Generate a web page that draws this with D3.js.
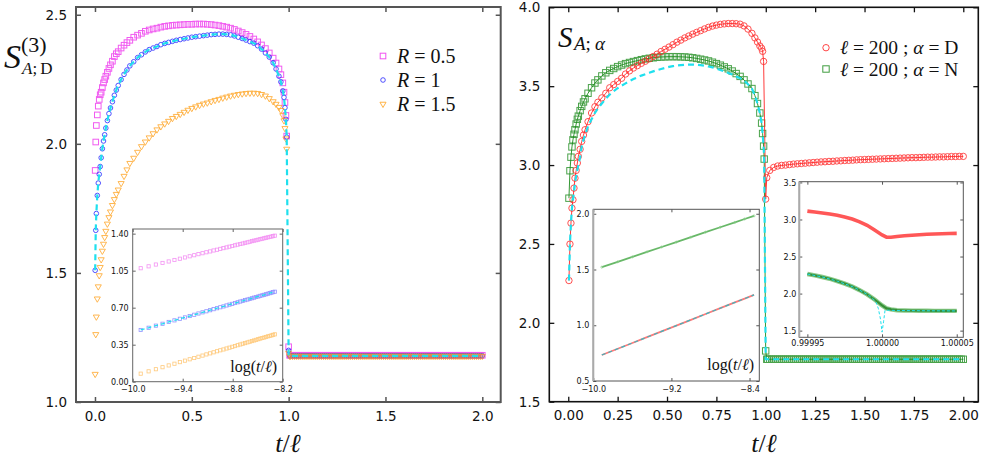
<!DOCTYPE html>
<html><head><meta charset="utf-8">
<script src="https://cdn.jsdelivr.net/npm/d3@7"></script>
<style>body{margin:0;background:#fff}svg{display:block}</style>
</head><body>
<svg id="c" width="986" height="461"></svg>
<script>
// ===================== DATA =====================
// ---- Left panel: S^(3)_{A;D} vs t/l ----
const tLeft = [0.001,0.004,0.007,0.012,0.017,0.022,0.027,0.032,0.038,0.044,
  0.05,0.056,0.064,0.072,0.08,0.09,0.10,0.11,0.12,0.135,
  0.15,0.165,0.18,0.20,0.22,0.24,0.26,0.28,0.30,0.32,
  0.34,0.36,0.38,0.40,0.42,0.44,0.46,0.48,0.50,0.52,
  0.54,0.56,0.58,0.60,0.62,0.64,0.66,0.68,0.70,0.72,
  0.74,0.76,0.78,0.80,0.82,0.84,0.86,0.88,0.90,0.92,
  0.935,0.95,0.96,0.97,0.976,0.981,0.986,0.99,1.0];
const sR05 = [1.897,2.007,2.071,2.112,2.146,2.172,2.19,2.20,2.218,2.236,
  2.249,2.262,2.277,2.292,2.306,2.32,2.338,2.349,2.357,2.371,
  2.382,2.392,2.401,2.413,2.421,2.428,2.436,2.441,2.445,2.448,
  2.452,2.455,2.457,2.459,2.460,2.461,2.462,2.463,2.463,2.464,
  2.464,2.464,2.463,2.462,2.460,2.458,2.455,2.452,2.448,2.443,
  2.437,2.431,2.424,2.416,2.406,2.395,2.383,2.369,2.352,2.332,
  2.313,2.29,2.268,2.236,2.20,2.16,2.11,2.03,1.214];
const sR1 = [1.51,1.665,1.73,1.80,1.848,1.882,1.912,1.946,1.981,2.011,
  2.035,2.061,2.09,2.117,2.139,2.163,2.188,2.208,2.226,2.249,
  2.269,2.286,2.302,2.318,2.334,2.345,2.356,2.365,2.371,2.377,
  2.384,2.389,2.393,2.397,2.401,2.404,2.407,2.41,2.413,2.415,
  2.417,2.419,2.421,2.423,2.424,2.425,2.425,2.424,2.422,2.418,
  2.413,2.408,2.402,2.396,2.39,2.38,2.367,2.352,2.336,2.314,
  2.29,2.262,2.24,2.205,2.18,2.14,2.095,2.026,1.2];
const sR15 = [1.108,1.262,1.33,1.40,1.447,1.49,1.522,1.552,1.585,1.612,
  1.638,1.662,1.69,1.715,1.737,1.762,1.785,1.805,1.822,1.847,
  1.875,1.90,1.925,1.945,1.968,1.99,2.008,2.024,2.04,2.055,
  2.067,2.078,2.088,2.099,2.107,2.115,2.123,2.131,2.138,2.144,
  2.15,2.155,2.159,2.164,2.169,2.173,2.178,2.182,2.186,2.189,
  2.192,2.194,2.196,2.197,2.197,2.196,2.192,2.186,2.176,2.164,
  2.154,2.142,2.13,2.11,2.09,2.06,2.02,1.98,1.19];
// plateau after t/l = 1 (dense grid)
const tFlat = [1.005,1.01,1.02,1.03,1.04,1.05,1.06,1.07,1.08,1.09,1.10,1.11,1.12,1.13,1.14,1.15,1.16,1.17,1.18,1.19,
  1.20,1.21,1.22,1.23,1.24,1.25,1.26,1.27,1.28,1.29,1.30,1.31,1.32,1.33,1.34,1.35,1.36,1.37,1.38,1.39,
  1.40,1.41,1.42,1.43,1.44,1.45,1.46,1.47,1.48,1.49,1.50,1.51,1.52,1.53,1.54,1.55,1.56,1.57,1.58,1.59,
  1.60,1.61,1.62,1.63,1.64,1.65,1.66,1.67,1.68,1.69,1.70,1.71,1.72,1.73,1.74,1.75,1.76,1.77,1.78,1.79,
  1.80,1.81,1.82,1.83,1.84,1.85,1.86,1.87,1.88,1.89,1.90,1.91,1.92,1.93,1.94,1.95,1.96,1.97,1.98,1.99,2.00];
const sR05Flat = [1.181,1.181,1.181,1.181,1.181,1.181,1.181,1.181,1.181,1.181,1.181,1.181,1.181,1.181,1.181,1.181,1.181,1.181,1.181,1.181,
  1.181,1.181,1.181,1.181,1.181,1.181,1.181,1.181,1.181,1.181,1.181,1.181,1.181,1.181,1.181,1.181,1.181,1.181,1.181,1.181,
  1.181,1.181,1.181,1.181,1.181,1.181,1.181,1.181,1.181,1.181,1.181,1.181,1.181,1.181,1.181,1.181,1.181,1.181,1.181,1.181,
  1.181,1.181,1.181,1.181,1.181,1.181,1.181,1.181,1.181,1.181,1.181,1.181,1.181,1.181,1.181,1.181,1.181,1.181,1.181,1.181,
  1.181,1.181,1.181,1.181,1.181,1.181,1.181,1.181,1.181,1.181,1.181,1.181,1.181,1.181,1.181,1.181,1.181,1.181,1.181,1.181,1.181];
const sR1Flat = [1.179,1.179,1.179,1.179,1.179,1.179,1.179,1.179,1.179,1.179,1.179,1.179,1.179,1.179,1.179,1.179,1.179,1.179,1.179,1.179,
  1.179,1.179,1.179,1.179,1.179,1.179,1.179,1.179,1.179,1.179,1.179,1.179,1.179,1.179,1.179,1.179,1.179,1.179,1.179,1.179,
  1.179,1.179,1.179,1.179,1.179,1.179,1.179,1.179,1.179,1.179,1.179,1.179,1.179,1.179,1.179,1.179,1.179,1.179,1.179,1.179,
  1.179,1.179,1.179,1.179,1.179,1.179,1.179,1.179,1.179,1.179,1.179,1.179,1.179,1.179,1.179,1.179,1.179,1.179,1.179,1.179,
  1.179,1.179,1.179,1.179,1.179,1.179,1.179,1.179,1.179,1.179,1.179,1.179,1.179,1.179,1.179,1.179,1.179,1.179,1.179,1.179,1.179];
const sR15Flat = [1.178,1.178,1.178,1.178,1.178,1.178,1.178,1.178,1.178,1.178,1.178,1.178,1.178,1.178,1.178,1.178,1.178,1.178,1.178,1.178,
  1.178,1.178,1.178,1.178,1.178,1.178,1.178,1.178,1.178,1.178,1.178,1.178,1.178,1.178,1.178,1.178,1.178,1.178,1.178,1.178,
  1.178,1.178,1.178,1.178,1.178,1.178,1.178,1.178,1.178,1.178,1.178,1.178,1.178,1.178,1.178,1.178,1.178,1.178,1.178,1.178,
  1.178,1.178,1.178,1.178,1.178,1.178,1.178,1.178,1.178,1.178,1.178,1.178,1.178,1.178,1.178,1.178,1.178,1.178,1.178,1.178,
  1.178,1.178,1.178,1.178,1.178,1.178,1.178,1.178,1.178,1.178,1.178,1.178,1.178,1.178,1.178,1.178,1.178,1.178,1.178,1.178,1.178];
// theory (cyan dashed) coincides with R = 1 up to the jump, then the plateau
const theoryLeftT = tLeft.slice(0,-1).concat([1.0, 2.0]);
const theoryLeft = sR1.slice(0,-1).concat([1.179, 1.179]);

// ---- Left inset: vs log(t/l) ----
const in1LogT = [-9.904,-9.809,-9.722,-9.642,-9.568,-9.499,-9.434,-9.373,-9.316,-9.262,-9.211,-9.162,-9.116,-9.071,
  -9.029,-8.988,-8.949,-8.911,-8.874,-8.839,-8.805,-8.773,-8.741,-8.710,-8.680,-8.651,-8.623,-8.596,-8.569,-8.543,
  -8.518,-8.493,-8.469,-8.445,-8.422,-8.400,-8.378,-8.356,-8.335,-8.315,-8.295];
const in1R05 = [1.073,1.091,1.108,1.123,1.137,1.151,1.163,1.175,1.186,1.196,1.206,1.215,1.224,1.232,1.241,1.248,
  1.256,1.263,1.270,1.277,1.283,1.290,1.296,1.302,1.307,1.313,1.318,1.323,1.329,1.334,1.338,1.343,1.348,1.352,
  1.357,1.361,1.365,1.369,1.373,1.377,1.381];
const in1R1 = [0.489,0.510,0.530,0.548,0.565,0.580,0.595,0.608,0.621,0.633,0.645,0.656,0.666,0.676,0.686,0.695,
  0.704,0.712,0.721,0.729,0.736,0.744,0.751,0.758,0.764,0.771,0.777,0.783,0.789,0.795,0.801,0.806,0.812,0.817,
  0.822,0.827,0.832,0.837,0.842,0.847,0.851];
const in1R15 = [0.076,0.098,0.118,0.137,0.154,0.170,0.185,0.199,0.212,0.224,0.236,0.247,0.258,0.268,0.278,0.288,
  0.297,0.305,0.314,0.322,0.330,0.337,0.345,0.352,0.359,0.365,0.372,0.378,0.384,0.390,0.396,0.402,0.408,0.413,
  0.418,0.423,0.429,0.433,0.438,0.443,0.448];

// ---- Right panel: S_{A;alpha} vs t/l, l = 200 ----
const tRight = [0.0035,0.0086,0.0137,0.0187,0.0238,0.029,0.034,0.04,0.046,0.051,
  0.06,0.068,0.077,0.085,0.1,0.118,0.135,0.15,0.17,0.19,
  0.21,0.23,0.25,0.27,0.29,0.31,0.33,0.35,0.37,0.39,
  0.41,0.43,0.45,0.47,0.49,0.51,0.53,0.55,0.57,0.59,
  0.61,0.63,0.65,0.67,0.69,0.71,0.73,0.75,0.77,0.79,
  0.81,0.83,0.85,0.87,0.89,0.91,0.93,0.945,0.958,0.97,
  0.979,0.984,0.989,0.992,0.9995];
const sN = [2.79,2.964,3.05,3.115,3.16,3.195,3.224,3.26,3.29,3.31,
  3.345,3.372,3.40,3.42,3.455,3.49,3.52,3.54,3.565,3.585,
  3.60,3.612,3.624,3.634,3.643,3.65,3.656,3.662,3.668,3.673,
  3.677,3.68,3.683,3.685,3.686,3.687,3.687,3.687,3.686,3.685,
  3.683,3.68,3.676,3.671,3.666,3.66,3.652,3.643,3.633,3.622,
  3.61,3.596,3.58,3.562,3.54,3.514,3.485,3.44,3.39,3.33,
  3.266,3.2,3.12,3.038,1.822];
const sNFlat = [1.769,1.769,1.769,1.769,1.769,1.769,1.769,1.769,1.769,1.769,1.769,1.769,1.769,1.769,1.769,1.769,1.769,1.769,1.769,1.769,
  1.769,1.769,1.769,1.769,1.769,1.769,1.769,1.769,1.769,1.769,1.769,1.769,1.769,1.769,1.769,1.769,1.769,1.769,1.769,1.769,
  1.769,1.769,1.769,1.769,1.769,1.769,1.769,1.769,1.769,1.769,1.769,1.769,1.769,1.769,1.769,1.769,1.769,1.769,1.769,1.769,
  1.769,1.769,1.769,1.769,1.769,1.769,1.769,1.769,1.769,1.769,1.769,1.769,1.769,1.769,1.769,1.769,1.769,1.769,1.769,1.769,
  1.769,1.769,1.769,1.769,1.769,1.769,1.769,1.769,1.769,1.769,1.769,1.769,1.769,1.769,1.769,1.769,1.769,1.769,1.769,1.769,1.769];
const tRed = [0.0035,0.0086,0.0137,0.0187,0.0238,0.029,0.034,0.04,0.046,0.051,
  0.06,0.068,0.077,0.085,0.1,0.118,0.135,0.15,0.17,0.19,
  0.21,0.23,0.25,0.27,0.29,0.31,0.33,0.35,0.37,0.39,
  0.41,0.43,0.45,0.47,0.49,0.51,0.53,0.55,0.57,0.59,
  0.61,0.63,0.65,0.67,0.69,0.71,0.73,0.75,0.77,0.79,
  0.81,0.83,0.85,0.87,0.89,0.91,0.93,0.945,0.958,0.97,
  0.979,0.984,0.989,0.9995];
const sD = [2.268,2.499,2.632,2.727,2.78,2.854,2.917,2.966,3.013,3.055,
  3.10,3.15,3.19,3.224,3.275,3.33,3.37,3.398,3.426,3.455,
  3.49,3.51,3.53,3.55,3.577,3.597,3.615,3.63,3.645,3.658,
  3.673,3.688,3.703,3.72,3.734,3.748,3.763,3.779,3.792,3.806,
  3.818,3.83,3.841,3.852,3.863,3.873,3.881,3.887,3.892,3.895,
  3.897,3.897,3.896,3.893,3.882,3.862,3.835,3.806,3.78,3.755,
  3.74,3.721,3.657,2.784];
const tRedAfter = [1.005,1.02,1.04,1.06,1.08,1.10,1.12,1.14,1.16,1.18,1.20,1.22,1.24,1.26,1.28,1.30,1.32,1.34,1.36,1.38,
  1.40,1.42,1.44,1.46,1.48,1.50,1.52,1.54,1.56,1.58,1.60,1.62,1.64,1.66,1.68,1.70,1.72,1.74,1.76,1.78,
  1.80,1.82,1.84,1.86,1.88,1.90,1.92,1.94,1.96,1.98,2.00];
const sDAfter = [2.92,2.966,2.985,2.994,2.998,3.000,3.003,3.006,3.008,3.010,
  3.012,3.014,3.016,3.018,3.020,3.021,3.023,3.024,3.026,3.027,
  3.029,3.030,3.031,3.033,3.034,3.035,3.036,3.037,3.038,3.039,
  3.040,3.041,3.042,3.043,3.044,3.045,3.046,3.047,3.047,3.048,
  3.049,3.050,3.050,3.051,3.052,3.052,3.053,3.054,3.054,3.055,3.055];
const theoryRightT = tRight.concat([2.0]);
const theoryRight = [2.268,2.499,2.632,2.727,2.78,2.83,2.886,2.93,2.97,3.0,
  3.05,3.118,3.16,3.19,3.245,3.29,3.33,3.36,3.39,3.42,
  3.447,3.468,3.487,3.503,3.518,3.532,3.545,3.556,3.567,3.576,
  3.585,3.594,3.602,3.609,3.616,3.622,3.627,3.631,3.634,3.636,
  3.637,3.637,3.636,3.634,3.63,3.625,3.619,3.612,3.603,3.594,
  3.584,3.574,3.562,3.55,3.536,3.512,3.485,3.44,3.39,3.33,
  3.266,3.2,3.12,3.038,1.769,1.769];

// ---- Right inset A: vs log(t/l) ----
const in2LogT = [-9.913,-9.75,-9.6,-9.45,-9.3,-9.15,-9.0,-8.85,-8.7,-8.55,-8.45,-8.354];
const in2N = [1.521,1.569,1.613,1.658,1.702,1.746,1.790,1.835,1.879,1.923,1.953,1.981];
const in2D = [0.733,0.789,0.841,0.893,0.945,0.997,1.049,1.101,1.153,1.205,1.239,1.272];

// ---- Right inset B: zoom around t/l = 1 (offset in units of 1e-5) ----
const in3Off = [-5,-4.5,-4,-3.5,-3,-2.5,-2,-1.5,-1,-0.5,0,0.3,0.6,1,1.5,2,2.5,3,3.5,4,4.5,5];
const in3D = [3.113,3.100,3.088,3.074,3.056,3.034,3.006,2.967,2.921,2.858,2.792,2.762,2.760,2.770,2.780,2.788,2.795,2.800,2.804,2.808,2.811,2.813];
const in3N = [2.264,2.245,2.224,2.200,2.168,2.135,2.095,2.046,1.990,1.920,1.840,1.800,1.786,1.776,1.772,1.770,1.769,1.768,1.767,1.767,1.766,1.766];
const in3TheoryOff = [-5,-4,-3,-2,-1.5,-1,-0.6,-0.4,-0.25,-0.1,0,0.1,0.2,0.5,1,2,3,4,5];
const in3Theory = [2.264,2.224,2.168,2.095,2.046,1.99,1.93,1.88,1.80,1.65,1.48,1.62,1.775,1.775,1.772,1.770,1.768,1.767,1.766];
const in3TickOff = [-5, 0, 5];
const in3TickLabels = ["0.99995", "1.00000", "1.00005"];

// tick values
const leftXTicks = [0, 0.5, 1.0, 1.5, 2.0];
const leftYTicks = [1.0, 1.5, 2.0, 2.5];
const rightXTicks = [0, 0.25, 0.5, 0.75, 1.0, 1.25, 1.5, 1.75, 2.0];
const rightYTicks = [1.5, 2.0, 2.5, 3.0, 3.5, 4.0];
const in1XTicks = [-10.0, -9.4, -8.8, -8.2];
const in1YTicks = [0, 0.35, 0.70, 1.05, 1.40];
const in2XTicks = [-10.0, -9.2, -8.4];
const in2YTicks = [0.5, 1.0, 1.5, 2.0];
const in3YTicks = [1.5, 2.0, 2.5, 3.0, 3.5];

// ===================== DRAWING =====================
const SERIF = "'Liberation Serif','DejaVu Serif',serif";
const SANS = "'DejaVu Sans',sans-serif";
const C = {mag:'#ee33ee', blue:'#2a2aff', orange:'#ffa21c', cyan:'#1fe0ee', red:'#ff2626', green:'#1e8c1e'};
const svg = d3.select('#c');

const zip = (xs, ys) => xs.map((v, i) => [v, ys[i]]);

function axes(g, x, y, o) {
  const [xa, xb] = x.range(), [ya, yb] = y.range();
  const style = sel => {
    sel.select('.domain').remove();
    sel.attr('font-family', SANS).attr('font-size', o.fs);
    sel.selectAll('text').attr('fill', '#111');
    sel.selectAll('line').attr('stroke', o.stroke).attr('stroke-width', o.tw);
  };
  const none = () => '';
  g.append('g').attr('transform', `translate(0,${ya})`)
    .call(d3.axisBottom(x).tickValues(o.xt).tickFormat(o.xf).tickSizeInner(-o.tl).tickSizeOuter(0).tickPadding(o.xpad)).call(style);
  g.append('g').attr('transform', `translate(0,${yb})`)
    .call(d3.axisTop(x).tickValues(o.xt).tickFormat(none).tickSizeInner(-o.tl).tickSizeOuter(0)).call(style);
  g.append('g').attr('transform', `translate(${xa},0)`)
    .call(d3.axisLeft(y).tickValues(o.yt).tickFormat(o.yf).tickSizeInner(-o.tl).tickSizeOuter(0).tickPadding(o.ypad)).call(style);
  g.append('g').attr('transform', `translate(${xb},0)`)
    .call(d3.axisRight(y).tickValues(o.yt).tickFormat(none).tickSizeInner(-o.tl).tickSizeOuter(0)).call(style);
  g.append('rect').attr('x', xa).attr('y', yb).attr('width', xb - xa).attr('height', ya - yb)
    .attr('fill', 'none').attr('stroke', o.stroke).attr('stroke-width', o.sw);
  if (o.leftEdge) g.append('line').attr('x1', xa).attr('x2', xa).attr('y1', yb).attr('y2', ya)
    .attr('stroke', o.leftEdge).attr('stroke-width', 2);
}

function markers(g, pts, x, y, kind, s, color, op, sw) {
  const sel = g.append('g').attr('fill', 'none').attr('stroke', color).attr('stroke-width', sw).attr('opacity', op);
  pts.forEach(([a, b]) => {
    const px = x(a), py = y(b);
    if (kind === 'sq') sel.append('rect').attr('x', px - s/2).attr('y', py - s/2).attr('width', s).attr('height', s);
    else if (kind === 'ci') sel.append('circle').attr('cx', px).attr('cy', py).attr('r', s);
    else if (kind === 'tri') sel.append('path').attr('d', d3.symbol().type(d3.symbolTriangle).size(s)())
      .attr('transform', `translate(${px},${py}) rotate(180)`);
  });
}

function line(g, pts, x, y, color, w, dash, op) {
  g.append('path').attr('d', d3.line().x(d => x(d[0])).y(d => y(d[1]))(pts))
    .attr('fill', 'none').attr('stroke', color).attr('stroke-width', w)
    .attr('stroke-dasharray', dash || null).attr('opacity', op == null ? 1 : op);
}

function text(g, x, y, size, parts, anchor) {
  const t = g.append('text').attr('x', x).attr('y', y).attr('font-family', SERIF).attr('font-size', size)
    .attr('text-anchor', anchor || 'start').attr('fill', '#111');
  parts.forEach(p => {
    const s = t.append('tspan').text(p.t);
    if (p.i) s.attr('font-style', 'italic');
    if (p.dx) s.attr('dx', p.dx);
  });
  return t;
}

// ---------- LEFT PANEL ----------
const xL = d3.scaleLinear().domain([-0.098, 2.095]).range([76, 500.7]);
const yL = d3.scaleLinear().domain([1.0, 2.53]).range([402, 7]);
const gL = svg.append('g');

markers(gL, zip(tLeft, sR05).concat(zip(tFlat, sR05Flat)), xL, yL, 'sq', 5.6, C.mag, 0.8, 1);
markers(gL, zip(tLeft, sR1).concat(zip(tFlat, sR1Flat)), xL, yL, 'ci', 2.3, C.blue, 0.9, 0.9);
markers(gL, zip(tLeft, sR15).concat(zip(tFlat, sR15Flat)), xL, yL, 'tri', 16, C.orange, 0.85, 0.9);
line(gL, zip(theoryLeftT, theoryLeft), xL, yL, C.cyan, 2.2, '6,4');

axes(gL, xL, yL, {xt: leftXTicks, yt: leftYTicks, xf: d3.format('.1f'), yf: d3.format('.1f'),
  tl: 5, fs: 13.5, xpad: 9, ypad: 9, stroke: '#555', tw: 1.5, sw: 2});

// legend (marker positions given in pixels, converted through the scales)
markers(gL, [[xL.invert(383), yL.invert(56)]], xL, yL, 'sq', 5.6, C.mag, 0.85, 1);
markers(gL, [[xL.invert(383), yL.invert(80)]], xL, yL, 'ci', 2.3, C.blue, 0.9, 0.9);
markers(gL, [[xL.invert(383), yL.invert(104)]], xL, yL, 'tri', 16, C.orange, 0.9, 0.9);
text(gL, 397, 63, 20, [{t:'R', i:1}, {t:' = 0.5'}]);
text(gL, 397, 87, 20, [{t:'R', i:1}, {t:' = 1'}]);
text(gL, 397, 111, 20, [{t:'R', i:1}, {t:' = 1.5'}]);

// y label
text(gL, 4, 68, 34, [{t:'S', i:1}]);
text(gL, 21, 52, 22, [{t:'(3)'}]);
text(gL, 22, 74, 17, [{t:'A', i:1}, {t:';'}, {t:'D', dx:3}]);
// x label
text(gL, 288, 452, 26, [{t:'t', i:1}, {t:'/'}, {t:'ℓ', i:1}], 'middle');

// inset 1
const xI1 = d3.scaleLinear().domain([-10.0, -8.2]).range([132.7, 282.7]);
const yI1 = d3.scaleLinear().domain([0, 1.444]).range([381.7, 229]);
const gI1 = svg.append('g');
gI1.append('rect').attr('x', 132.7).attr('y', 229).attr('width', 150).attr('height', 152.7).attr('fill', '#fff');
markers(gI1, zip(in1LogT, in1R05), xI1, yI1, 'sq', 3.2, '#f070f0', 0.75, 0.8);
markers(gI1, zip(in1LogT, in1R1), xI1, yI1, 'sq', 3.2, '#7070ff', 0.75, 0.8);
markers(gI1, zip(in1LogT, in1R15), xI1, yI1, 'sq', 3.2, '#ffb850', 0.75, 0.8);
line(gI1, zip(in1LogT, in1R1), xI1, yI1, C.cyan, 1.3, '4,3');
axes(gI1, xI1, yI1, {xt: in1XTicks, yt: in1YTicks, xf: d3.format('.1f'), yf: d3.format('.2f'),
  tl: 3, fs: 8, xpad: 5, ypad: 4, stroke: '#666', tw: 1, sw: 1});
text(gI1, 277, 372, 16, [{t:'log('}, {t:'t', i:1}, {t:'/'}, {t:'ℓ', i:1}, {t:')'}], 'end');

// ---------- RIGHT PANEL ----------
const xR = d3.scaleLinear().domain([-0.096, 2.076]).range([549.3, 978.3]);
const yR = d3.scaleLinear().domain([1.5, 4.0]).range([401.7, 7.3]);
const gR = svg.append('g');

const greenPts = zip(tRight, sN).concat(zip(tFlat, sNFlat));
line(gR, greenPts, xR, yR, C.green, 1, null, 0.9);
markers(gR, greenPts, xR, yR, 'sq', 6.4, C.green, 0.8, 1);
const redPts = zip(tRed, sD).concat(zip(tRedAfter, sDAfter));
line(gR, redPts, xR, yR, C.red, 1, null, 0.9);
markers(gR, redPts, xR, yR, 'ci', 3.2, C.red, 0.8, 1);
line(gR, zip(theoryRightT, theoryRight), xR, yR, C.cyan, 2.2, '6,4');

axes(gR, xR, yR, {xt: rightXTicks, yt: rightYTicks, xf: d3.format('.2f'), yf: d3.format('.1f'),
  tl: 5, fs: 13.5, xpad: 9, ypad: 9, stroke: '#111', tw: 1.3, sw: 1.6});

// legend
markers(gR, [[xR.invert(826), yR.invert(47.7)]], xR, yR, 'ci', 3.2, C.red, 0.85, 1);
markers(gR, [[xR.invert(826), yR.invert(69)]], xR, yR, 'sq', 6.4, C.green, 0.85, 1);
text(gR, 840, 54, 19.5, [{t:'ℓ', i:1}, {t:' = 200 ; '}, {t:'α', i:1}, {t:' = D'}]);
text(gR, 840, 75.5, 19.5, [{t:'ℓ', i:1}, {t:' = 200 ; '}, {t:'α', i:1}, {t:' = N'}]);

// label inside
text(gR, 558, 47, 29, [{t:'S', i:1}]);
text(gR, 574, 50, 19, [{t:'A', i:1}, {t:';'}, {t:'α', i:1, dx:4}]);
text(gR, 764, 452, 26, [{t:'t', i:1}, {t:'/'}, {t:'ℓ', i:1}], 'middle');

// inset 2
const xI2 = d3.scaleLinear().domain([-10.0, -8.3]).range([593.3, 759.3]);
const yI2 = d3.scaleLinear().domain([0.5, 2.04]).range([381, 209.3]);
const gI2 = svg.append('g');
gI2.append('rect').attr('x', 593.3).attr('y', 209.3).attr('width', 166).attr('height', 171.7).attr('fill', '#fff');
line(gI2, zip(in2LogT, in2N), xI2, yI2, '#58b058', 1.8, null, 0.9);
markers(gI2, zip(in2LogT, in2N), xI2, yI2, 'ci', 1, '#8fd08f', 0.9, 0.8);
line(gI2, zip(in2LogT, in2D), xI2, yI2, '#ff6a6a', 1.8, null, 0.9);
line(gI2, zip(in2LogT, in2D), xI2, yI2, '#3ab8c0', 1.2, '4,3');
axes(gI2, xI2, yI2, {xt: in2XTicks, yt: in2YTicks, xf: d3.format('.1f'), yf: d3.format('.1f'),
  tl: 3, fs: 8, xpad: 5, ypad: 4, stroke: '#555', tw: 1, sw: 1, leftEdge: '#aaa'});
text(gI2, 754, 370, 16, [{t:'log('}, {t:'t', i:1}, {t:'/'}, {t:'ℓ', i:1}, {t:')'}], 'end');

// inset 3
const xI3 = d3.scaleLinear().domain([-5.54, 5.44]).range([799.3, 963.3]);
const yI3 = d3.scaleLinear().domain([1.41, 3.51]).range([337.3, 181.7]);
const gI3 = svg.append('g');
gI3.append('rect').attr('x', 799.3).attr('y', 181.7).attr('width', 164).attr('height', 155.6).attr('fill', '#fff');
line(gI3, zip(in3Off, in3D), xI3, yI3, '#ff3a3a', 3.6, null, 0.85);
line(gI3, zip(in3Off, in3N), xI3, yI3, '#7cc47c', 4.4, null, 0.9);
line(gI3, zip(in3Off, in3N), xI3, yI3, '#2f8a2f', 2.2, null, 0.9);
line(gI3, zip(in3TheoryOff, in3Theory), xI3, yI3, C.cyan, 1, '3,2');
axes(gI3, xI3, yI3, {xt: in3TickOff, yt: in3YTicks, xf: (d, i) => in3TickLabels[i], yf: d3.format('.1f'),
  tl: 3, fs: 8, xpad: 3, ypad: 3, stroke: '#555', tw: 1, sw: 1, leftEdge: '#aaa'});
</script>
</body></html>
